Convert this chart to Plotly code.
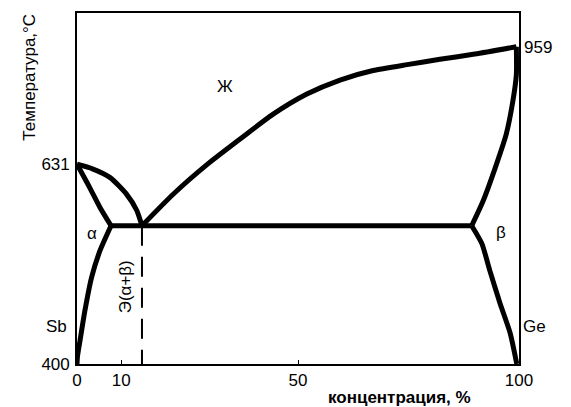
import plotly.graph_objects as go

# Sb–Ge phase diagram (schematic temperature scale).
# x: concentration of Ge, %; y: relative height on the schematic temperature axis.

# temperature tick positions on the schematic axis and their labels
temp_pos_left = [0, 56.9]
temp_text_left = ["400", "631"]
temp_pos_right = [90.4]
temp_text_right = ["959"]

conc_ticks = [0, 10, 50, 100]
conc_text = ["0", "10", "50", "100"]

# liquidus, Sb side (631 -> eutectic)
liq_sb_x = [0, 3.5, 7.5, 11.2, 13.5, 14.7]
liq_sb_y = [56.9, 55.6, 53.1, 48.4, 43.8, 39.4]

# liquidus, Ge side (eutectic -> 959)
liq_ge_x = [14.7, 21.7, 29.4, 36.9, 44.3, 52.0, 59.5, 67.0, 74.7, 82.1, 90.0, 99.4]
liq_ge_y = [39.4, 48.3, 56.8, 64.1, 71.1, 76.9, 80.9, 83.6, 85.3, 86.8, 88.3, 90.4]

# solidus of alpha
sol_a_x = [0, 2.9, 5.2, 7.7]
sol_a_y = [56.9, 50.2, 44.6, 39.4]

# solvus of alpha
solv_a_x = [7.7, 5.2, 3.3, 1.8, 0.7, 0.1, 0]
solv_a_y = [39.4, 32.3, 24.7, 15.3, 6.8, 2.1, 0]

# solidus of beta
sol_b_x = [99.4, 99.4, 98.6, 97.1, 94.6, 91.9, 89.3]
sol_b_y = [90.4, 82.4, 74.8, 65.4, 55.8, 46.5, 39.4]

# solvus of beta
solv_b_x = [89.3, 91.6, 93.4, 95.7, 98.0, 99.5]
solv_b_y = [39.4, 34.3, 26.6, 17.3, 8.8, 0]

# eutectic line and eutectic composition
eut_x = [7.7, 89.3]
eut_y = [39.4, 39.4]
eut_comp_x = [14.7, 14.7]
eut_comp_y = [39.4, 0]

FONT = "Liberation Sans, Arial, sans-serif"
LW = 5

fig = go.Figure()

def curve(xs, ys, shape="spline", width=LW, dash=None):
    fig.add_trace(go.Scatter(
        x=xs, y=ys, mode="lines",
        line=dict(color="black", width=width, shape=shape, smoothing=0.6, dash=dash),
        hoverinfo="skip", showlegend=False,
    ))

curve(liq_sb_x, liq_sb_y)
curve(liq_ge_x, liq_ge_y)
curve(sol_a_x, sol_a_y)
curve(solv_a_x, solv_a_y)
curve(sol_b_x, sol_b_y)
curve(solv_b_x, solv_b_y)
curve(eut_x, eut_y, shape="linear")
curve(eut_comp_x, eut_comp_y, shape="linear", width=2, dash="20px,11px")

# secondary axis carrying the Ge melting point label
fig.add_trace(go.Scatter(x=[None], y=[None], yaxis="y2", showlegend=False, hoverinfo="skip"))

txt = dict(family=FONT, size=17, color="black")

labels = [
    ("Ж", 33.5, 79.2, 0),
    ("α", 3.3, 37.1, 0),
    ("β", 96.0, 37.4, 0),
    ("Э(α+β)", 10.9, 21.9, -90),
]
for t, x, y, ang in labels:
    fig.add_annotation(x=x, y=y, text=t, showarrow=False, font=txt, textangle=ang,
                       xanchor="center", yanchor="middle")

# component names beside the axes
fig.add_annotation(x=0, y=10.8, xref="x", yref="y", text="Sb", showarrow=False, font=txt,
                   xanchor="right", yanchor="middle", xshift=-8)
fig.add_annotation(x=100, y=10.6, xref="x", yref="y", text="Ge", showarrow=False, font=txt,
                   xanchor="left", yanchor="middle", xshift=2)

# axis titles, placed in paper coordinates
PW, PH = 442.0, 353.0
fig.add_annotation(x=(399 - 77) / PW, y=(364 - 398) / PH, xref="paper", yref="paper",
                   text="<b>концентрация, %</b>", showarrow=False, font=txt,
                   xanchor="center", yanchor="middle")
fig.add_annotation(x=(30 - 77) / PW, y=(364 - 76) / PH, xref="paper", yref="paper",
                   text="Температура,°С", showarrow=False, font=txt, textangle=-90,
                   xanchor="center", yanchor="middle")

fig.update_layout(
    width=571, height=407,
    margin=dict(l=77, r=52, t=11, b=43),
    paper_bgcolor="white", plot_bgcolor="white",
    font=txt,
    xaxis=dict(range=[0, 100], tickvals=conc_ticks, ticktext=conc_text,
               ticks="inside", ticklen=4, tickwidth=1.2, tickcolor="black",
               showline=True, linecolor="black", linewidth=2, mirror=True,
               showgrid=False, zeroline=False, fixedrange=True),
    yaxis=dict(range=[0, 100], tickvals=temp_pos_left, ticktext=temp_text_left,
               ticks="", ticklabelstandoff=2,
               showline=True, linecolor="black", linewidth=1.7, mirror=True,
               showgrid=False, zeroline=False, fixedrange=True),
    yaxis2=dict(range=[0, 100], overlaying="y", side="right",
                tickvals=temp_pos_right, ticktext=temp_text_right,
                ticks="", ticklabelstandoff=4, showline=False,
                showgrid=False, zeroline=False, fixedrange=True),
)

fig.write_html("out.html")
